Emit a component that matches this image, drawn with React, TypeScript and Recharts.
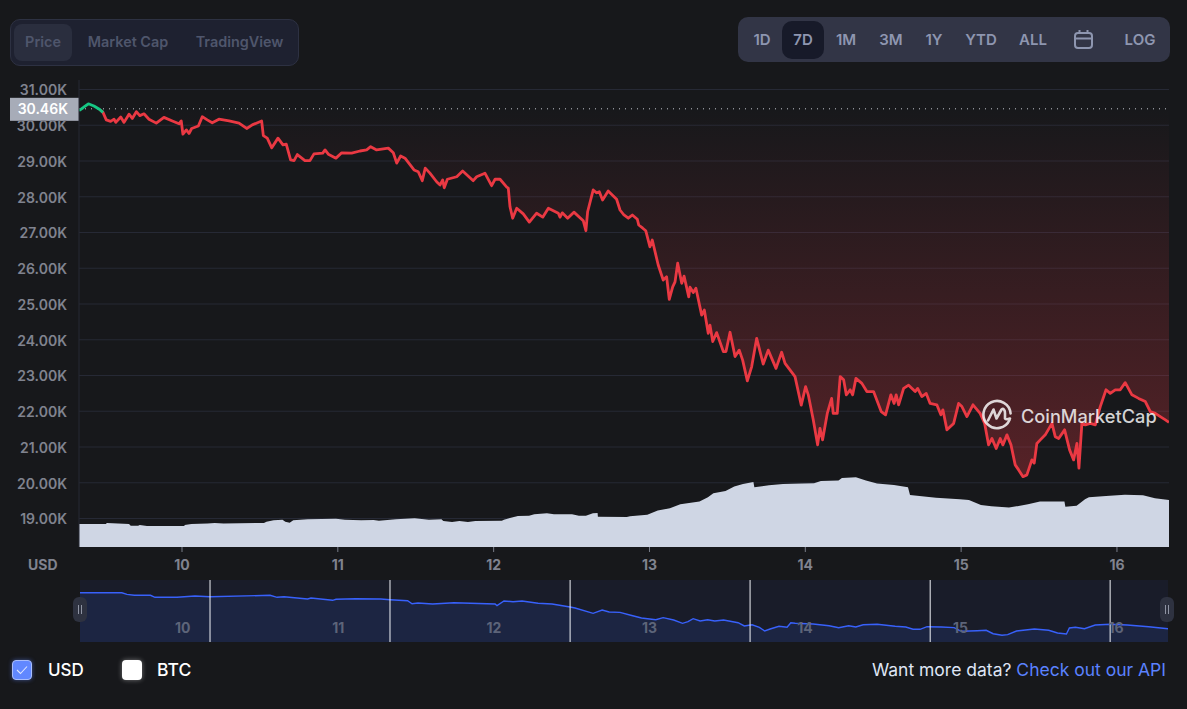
import { Area, ComposedChart, CartesianGrid, Line, ReferenceLine, XAxis, YAxis } from "recharts";

const FONT = "Inter, 'Noto Sans', sans-serif";

const BASELINE = 30.46;
const PRICE_TICKS = [19, 20, 21, 22, 23, 24, 25, 26, 27, 28, 29, 30, 31];
const DAY_TICKS = [10, 11, 12, 13, 14, 15, 16];
const DAY_RANGE = [9.339, 16.334];
const RANGE_BUTTONS = ["1D", "7D", "1M", "3M", "1Y", "YTD", "ALL"];

// price, in thousands of USD, against fractional day of the month
const priceDays = [
  9.339, 9.365, 9.399, 9.435, 9.472, 9.493, 9.514, 9.542, 9.564, 9.575, 9.607, 9.628, 9.66, 9.681, 9.707, 9.729,
  9.756, 9.788, 9.835, 9.884, 9.938, 9.981, 9.995, 10.006, 10.028, 10.045, 10.062, 10.105, 10.13, 10.162, 10.194,
  10.237, 10.302, 10.366, 10.415, 10.451, 10.511, 10.522, 10.547, 10.576, 10.616, 10.648, 10.669, 10.697, 10.719,
  10.74, 10.789, 10.821, 10.847, 10.903, 10.918, 10.939, 10.988, 11.025, 11.089, 11.142, 11.185, 11.211, 11.249,
  11.324, 11.356, 11.378, 11.403, 11.431, 11.489, 11.516, 11.542, 11.561, 11.591, 11.634, 11.656, 11.673, 11.683,
  11.703, 11.763, 11.801, 11.869, 11.891, 11.944, 11.987, 12.009, 12.041, 12.084, 12.094, 12.105, 12.122, 12.148,
  12.19, 12.229, 12.276, 12.315, 12.351, 12.415, 12.426, 12.44, 12.475, 12.515, 12.575, 12.592, 12.603, 12.639,
  12.661, 12.678, 12.699, 12.735, 12.789, 12.811, 12.836, 12.864, 12.89, 12.922, 12.931, 12.957, 12.976, 13.003,
  13.018, 13.056, 13.088, 13.11, 13.127, 13.149, 13.164, 13.181, 13.207, 13.222, 13.252, 13.26, 13.281, 13.298,
  13.335, 13.352, 13.377, 13.388, 13.406, 13.431, 13.474, 13.491, 13.517, 13.549, 13.576, 13.598, 13.628, 13.656,
  13.688, 13.73, 13.762, 13.812, 13.848, 13.87, 13.934, 13.974, 14.002, 14.019, 14.051, 14.079, 14.094, 14.111,
  14.141, 14.169, 14.179, 14.205, 14.224, 14.246, 14.263, 14.288, 14.304, 14.325, 14.363, 14.395, 14.438, 14.487,
  14.515, 14.549, 14.57, 14.583, 14.599, 14.631, 14.663, 14.705, 14.721, 14.748, 14.776, 14.801, 14.844, 14.87,
  14.883, 14.909, 14.952, 14.984, 15.005, 15.037, 15.076, 15.122, 15.151, 15.176, 15.198, 15.225, 15.251, 15.268,
  15.294, 15.32, 15.347, 15.369, 15.397, 15.422, 15.454, 15.469, 15.486, 15.508, 15.54, 15.583, 15.604, 15.626,
  15.664, 15.696, 15.722, 15.743, 15.756, 15.775, 15.797, 15.829, 15.861, 15.893, 15.93, 15.957, 15.989, 16.021,
  16.053, 16.096, 16.139, 16.182, 16.214, 16.246, 16.278, 16.311, 16.334,
];
const prices = [
  30.41, 30.49, 30.6, 30.54, 30.44, 30.36, 30.15, 30.11, 30.17, 30.08, 30.23, 30.08, 30.31, 30.19, 30.38, 30.27,
  30.32, 30.17, 30.06, 30.22, 30.12, 30.04, 30.12, 29.75, 29.87, 29.77, 29.91, 29.98, 30.24, 30.15, 30.07,
  30.17, 30.12, 30.06, 29.91, 30.01, 30.12, 29.71, 29.64, 29.37, 29.64, 29.45, 29.47, 29.03, 29.01,
  29.18, 29.01, 29.01, 29.2, 29.22, 29.31, 29.19, 29.08, 29.23, 29.22, 29.28, 29.31, 29.4, 29.31,
  29.36, 29.23, 28.94, 29.14, 29.08, 28.75, 28.7, 28.45, 28.8, 28.66, 28.42, 28.33, 28.47, 28.25,
  28.49, 28.56, 28.72, 28.45, 28.56, 28.66, 28.31, 28.49, 28.49, 28.27, 28.24, 27.72, 27.4, 27.68,
  27.52, 27.29, 27.54, 27.43, 27.68, 27.54, 27.43, 27.55, 27.4, 27.57, 27.33, 27.05, 27.58, 28.19,
  28.11, 28.14, 27.91, 28.16, 27.93, 27.63, 27.49, 27.4, 27.49, 27.37, 27.21, 27.12, 27.05, 26.6,
  26.79, 26.09, 25.67, 25.76, 25.13, 25.48, 25.62, 26.14, 25.58, 25.78, 25.2, 25.47, 25.32, 25.44,
  24.69, 24.83, 24.18, 24.41, 23.95, 24.2, 23.67, 23.67, 24.21, 23.53, 23.71, 23.43, 22.85, 23.25,
  24.04, 23.32, 23.71, 23.2, 23.65, 23.34, 22.97, 22.17, 22.69, 22.46, 21.76, 21.06, 21.52, 21.2,
  21.94, 22.36, 21.94, 21.94, 22.97, 22.88, 22.46, 22.6, 22.46, 22.92, 22.78, 22.55, 22.55, 21.99,
  21.9, 22.46, 22.22, 22.46, 22.18, 22.64, 22.73, 22.55, 22.64, 22.41, 22.5, 22.22, 22.18, 21.9,
  22.04, 21.48, 21.66, 22.22, 22.13, 21.85, 22.18, 21.94, 21.66, 21.06, 21.24, 20.96, 21.24, 21.06,
  21.34, 21.06, 20.5, 20.36, 20.17, 20.22, 20.64, 20.55, 21.1, 21.2, 21.34, 21.66, 21.29, 21.24,
  21.48, 20.92, 20.64, 21.1, 20.41, 21.66, 21.62, 21.66, 21.62, 22.13, 22.6, 22.5, 22.6, 22.6,
  22.8, 22.46, 22.36, 22.27, 21.99, 21.94, 21.85, 21.76, 21.69,
];

// 24h volume in billions of USD
const volumeDays = [
  9.339, 9.511, 9.518, 9.66, 9.671, 9.718, 9.729, 9.775, 10.015, 10.017, 10.061, 10.164, 10.21, 10.267, 10.526,
  10.542, 10.588, 10.645, 10.663, 10.691, 10.714, 10.806, 10.988, 11.046, 11.149, 11.229, 11.264, 11.373, 11.493,
  11.585, 11.665, 11.677, 11.733, 11.78, 11.835, 11.883, 12.053, 12.066, 12.111, 12.156, 12.227, 12.261, 12.342,
  12.387, 12.503, 12.547, 12.592, 12.637, 12.667, 12.669, 12.855, 12.875, 12.986, 13.053, 13.131, 13.198, 13.321,
  13.375, 13.41, 13.488, 13.544, 13.6, 13.667, 13.673, 13.767, 13.857, 13.979, 14.056, 14.1, 14.213, 14.235,
  14.325, 14.389, 14.46, 14.569, 14.659, 14.672, 14.839, 14.992, 15.05, 15.127, 15.194, 15.307, 15.429, 15.506,
  15.663, 15.669, 15.741, 15.795, 15.82, 15.93, 16.051, 16.167, 16.244, 16.334,
];
const volumes = [
  19.2, 19.2, 20, 19.2, 17.8, 17.8, 18.3, 17.5, 17.5, 18.3, 19.2, 19.6, 20, 19.6, 20,
  21.1, 22.3, 22.8, 21.1, 20.3, 22.3, 23.1, 23.6, 22.8, 22.3, 22.5, 21.9, 23.1, 23.9,
  22.8, 23.1, 21.7, 20.8, 21.7, 20.8, 21.7, 21.9, 22.8, 24.4, 25.8, 26.1, 27.3, 28.1,
  27.3, 27.3, 26.1, 26.1, 28.1, 28.3, 25.3, 25, 25.6, 26.9, 30.3, 32.3, 35.6, 37.8,
  41.4, 44.8, 46.7, 50.3, 52.5, 54.2, 49.8, 51.4, 52.5, 52.8, 53.1, 55, 55.3, 57.5,
  58.1, 55.3, 52.8, 51.7, 49.8, 43.3, 41.1, 39.8, 39.2, 35, 33.9, 32.8, 35.6, 37.8,
  37.8, 33.6, 34.4, 39.8, 41.4, 42.5, 43.6, 43.1, 40.6, 39.2,
];

// the range slider strip has its own coarser series
const navDays = [
  9.339, 9.608, 9.641, 9.688, 9.792, 9.821, 9.963, 10.078, 10.175, 10.561, 10.606, 10.651, 10.802, 10.824, 10.963,
  10.985, 11.112, 11.273, 11.332, 11.445, 11.474, 11.512, 11.606, 11.744, 12.008, 12.02, 12.065, 12.123, 12.181,
  12.284, 12.374, 12.49, 12.522, 12.638, 12.696, 12.741, 12.811, 12.88, 12.949, 13.041, 13.088, 13.156, 13.213,
  13.248, 13.281, 13.326, 13.374, 13.42, 13.477, 13.57, 13.61, 13.66, 13.707, 13.741, 13.776, 13.833, 13.885,
  13.909, 13.937, 14.052, 14.155, 14.217, 14.281, 14.327, 14.374, 14.464, 14.58, 14.648, 14.695, 14.74, 14.785,
  14.878, 14.959, 15.004, 15.107, 15.165, 15.21, 15.267, 15.303, 15.36, 15.475, 15.567, 15.624, 15.681, 15.7,
  15.739, 15.797, 15.866, 15.964, 16.071, 16.21, 16.334,
];
const navPrices = [
  30.57, 30.57, 30.17, 29.93, 29.93, 29.43, 29.43, 29.75, 29.58, 29.93, 29.43, 29.58, 29.01, 29.26, 28.69,
  28.94, 29.09, 29.01, 28.84, 28.59, 27.85, 28.02, 27.78, 28.1, 27.78, 27.36, 28.52, 28.35, 28.52,
  27.95, 27.78, 27.04, 26.79, 25.48, 26.29, 25.8, 25.7, 24.99, 24.32, 23.9, 24.4, 23.83, 23.01,
  23.41, 24.15, 23.58, 23.9, 23.58, 23.83, 23.16, 22.35, 22.66, 22.02, 21.11, 21.6, 22.27, 22.02,
  23.16, 23.01, 22.84, 22.42, 21.93, 22.42, 22.1, 22.66, 22.76, 22.27, 22.1, 21.53, 21.53, 22.17,
  22.1, 21.93, 21.04, 21.18, 21.28, 20.44, 20.05, 20.2, 21.11, 21.6, 21.28, 20.62, 20.37, 21.85,
  22.02, 21.67, 22.58, 22.76, 22.59, 22.17, 21.67,
];
const navMarks = [10.175, 11.332, 12.49, 13.647, 14.805, 15.962];

const priceRows = priceDays.map((day, i) => ({
  day,
  band: [Math.min(prices[i], BASELINE), BASELINE],
  up: i < 6 ? prices[i] : null,
  down: i >= 4 ? prices[i] : null,
}));
const volumeRows = volumeDays.map((day, i) => ({ day, volume: volumes[i] }));
const navRows = navDays.map((day, i) => ({ day, price: navPrices[i] }));

function BaselineTag({ viewBox }: any) {
  return (
    <g>
      <rect x={10} y={viewBox.y - 11} width={69} height={23} fill="#a7acb8" />
      <text x={68} y={viewBox.y + 5.5} textAnchor="end" fill="#fff" fontSize={14} fontWeight={600} fontFamily={FONT}>
        {BASELINE.toFixed(2)}K
      </text>
    </g>
  );
}

function NavTick({ x, payload }: any) {
  return (
    <text x={x} y={53} textAnchor="middle" fill="#5d6479" fontSize={14} fontWeight={700} fontFamily={FONT}>
      {payload.value}
    </text>
  );
}

function Handle({ left }: { left: number }) {
  return (
    <div style={{ position: "absolute", left, top: 597, width: 14, height: 25, borderRadius: 6, background: "#2e3240" }}>
      <div style={{ position: "absolute", left: 4.5, top: 8, width: 1, height: 9, background: "#8f94a3" }} />
      <div style={{ position: "absolute", left: 7.5, top: 8, width: 1, height: 9, background: "#8f94a3" }} />
    </div>
  );
}

function Pill({ label, left, width, active }: { label: string; left: number; width: number; active?: boolean }) {
  return (
    <div
      style={{
        position: "absolute",
        left,
        top: 24,
        width,
        height: 37,
        lineHeight: "36px",
        textAlign: "center",
        borderRadius: 8,
        background: active ? "#2a2e3e" : "transparent",
        color: "#4f566c",
        fontSize: 14.4,
        fontWeight: 600,
      }}
    >
      {label}
    </div>
  );
}

const rangeCenters = [762, 803, 846, 891, 934, 981, 1033];

export default function App() {
  return (
    <div
      style={{
        position: "absolute",
        left: 0,
        top: 0,
        width: 1187,
        height: 709,
        overflow: "hidden",
        background: "#17181b",
        fontFamily: FONT,
      }}
    >
      <div
        style={{
          position: "absolute",
          left: 10,
          top: 19,
          width: 287,
          height: 45,
          borderRadius: 10,
          border: "1px solid #2d3142",
          background: "#1e2130",
        }}
      />
      <Pill label="Price" left={14} width={58} active />
      <Pill label="Market Cap" left={80} width={96} />
      <Pill label="TradingView" left={188} width={103} />

      <div style={{ position: "absolute", left: 738, top: 17, width: 432, height: 45, borderRadius: 10, background: "#323546" }} />
      <div style={{ position: "absolute", left: 782, top: 21, width: 42, height: 38, borderRadius: 10, background: "#171a29" }} />
      {RANGE_BUTTONS.map((label, i) => (
        <div
          key={label}
          style={{
            position: "absolute",
            left: rangeCenters[i] - 30,
            width: 60,
            top: 30,
            textAlign: "center",
            lineHeight: "20px",
            color: "#8e96b0",
            fontSize: 15,
            fontWeight: 600,
          }}
        >
          {label}
        </div>
      ))}
      <svg style={{ position: "absolute", left: 1073, top: 29 }} width={21} height={21} viewBox="0 0 21 21" fill="none" stroke="#8e96b0" strokeWidth={2}>
        <rect x={2} y={4} width={17} height={15} rx={3} />
        <path d="M2 9.5H19M6.5 1V5M14.5 1V5" />
      </svg>
      <div style={{ position: "absolute", left: 1110, width: 60, top: 30, textAlign: "center", lineHeight: "20px", color: "#8e96b0", fontSize: 15, fontWeight: 600 }}>
        LOG
      </div>

      <div style={{ position: "absolute", left: 0, top: 0 }}>
        <ComposedChart width={1187} height={600} margin={{ top: 80, right: 18, bottom: 0, left: 0 }}>
          <defs>
            <linearGradient id="bandFill" x1="0" y1="0" x2="0" y2="1">
              <stop offset="0%" stopColor="#ea3943" stopOpacity={0} />
              <stop offset="100%" stopColor="#ea3943" stopOpacity={0.3} />
            </linearGradient>
          </defs>
          <CartesianGrid vertical={false} yAxisId="price" syncWithTicks stroke="#262935" />
          <XAxis
            type="number"
            dataKey="day"
            domain={DAY_RANGE}
            ticks={DAY_TICKS}
            interval={0}
            allowDataOverflow
            height={53}
            axisLine={false}
            tickSize={5}
            tickMargin={8}
            tickLine={{ stroke: "#787c88" }}
            tick={{ fill: "#80838f", fontSize: 14, fontWeight: 700, fontFamily: FONT }}
          />
          <YAxis
            yAxisId="price"
            domain={[18.203, 31.266]}
            ticks={PRICE_TICKS}
            interval={0}
            allowDataOverflow
            width={79}
            axisLine={{ stroke: "#262935" }}
            tickLine={false}
            tickSize={0}
            tickMargin={12}
            tickFormatter={(v: number) => `${v.toFixed(2)}K`}
            tick={{ fill: "#80838f", fontSize: 14, fontWeight: 600, fontFamily: FONT, dy: 1 }}
          />
          <YAxis yAxisId="volume" hide domain={[0, 389]} allowDataOverflow />
          <Area
            yAxisId="price"
            data={priceRows}
            dataKey="band"
            type="linear"
            stroke="none"
            fill="url(#bandFill)"
            fillOpacity={1}
            dot={false}
            activeDot={false}
            isAnimationActive={false}
          />
          <Area
            yAxisId="volume"
            data={volumeRows}
            dataKey="volume"
            type="linear"
            stroke="none"
            fill="#cfd6e4"
            fillOpacity={1}
            dot={false}
            activeDot={false}
            isAnimationActive={false}
          />
          <ReferenceLine yAxisId="price" y={BASELINE} stroke="#c3c6cf" strokeDasharray="1 5" label={<BaselineTag />} />
          <Line
            yAxisId="price"
            data={priceRows}
            dataKey="down"
            type="linear"
            stroke="#ea3943"
            strokeWidth={2.8}
            strokeLinejoin="round"
            dot={false}
            activeDot={false}
            isAnimationActive={false}
          />
          <Line
            yAxisId="price"
            data={priceRows}
            dataKey="up"
            type="linear"
            stroke="#16c784"
            strokeWidth={2.8}
            strokeLinejoin="round"
            dot={false}
            activeDot={false}
            isAnimationActive={false}
          />
        </ComposedChart>
      </div>

      <div style={{ position: "absolute", left: 28, top: 556, lineHeight: "18px", color: "#80838f", fontSize: 14, fontWeight: 700 }}>USD</div>

      <svg style={{ position: "absolute", left: 981, top: 399, opacity: 0.82 }} width={32} height={32} viewBox="0 0 32 32" fill="none" stroke="#fff" strokeWidth={2.6} strokeLinecap="round" strokeLinejoin="round">
        <path d="M28.5 21A13.6 13.6 0 1 1 29.6 14.5" />
        <path d="M7 21.5L12.5 10.5L15.5 19.5L20.5 10.5C22.5 9 24 11 24 14V19.5C25 21 26.5 20.5 29 19.5" />
      </svg>
      <div style={{ position: "absolute", left: 1021, top: 403, lineHeight: "27px", color: "rgba(255,255,255,0.82)", fontSize: 18.2, fontWeight: 500 }}>
        CoinMarketCap
      </div>

      <div style={{ position: "absolute", left: 80, top: 580, width: 1088, height: 62, background: "#191c29" }}>
        <ComposedChart width={1088} height={62} data={navRows} margin={{ top: 0, right: 0, bottom: 0, left: 0 }}>
          <XAxis type="number" dataKey="day" domain={DAY_RANGE} allowDataOverflow hide />
          <YAxis hide domain={[18.39, 33.71]} allowDataOverflow />
          <Area
            dataKey="price"
            type="linear"
            stroke="#3861fb"
            strokeWidth={1.4}
            fill="#1c2542"
            fillOpacity={1}
            dot={false}
            activeDot={false}
            isAnimationActive={false}
          />
          {navMarks.map((day) => (
            <ReferenceLine key={day} x={day} stroke="#f2f4f8" strokeWidth={1} />
          ))}
        </ComposedChart>
      </div>
      {/* slider labels sit above the line, so they get their own layer */}
      <div style={{ position: "absolute", left: 80, top: 580 }}>
        <ComposedChart width={1088} height={62} data={navRows} margin={{ top: 0, right: 0, bottom: 0, left: 0 }}>
          <XAxis
            type="number"
            dataKey="day"
            domain={DAY_RANGE}
            ticks={DAY_TICKS}
            interval={0}
            allowDataOverflow
            height={1}
            axisLine={false}
            tickLine={false}
            tick={<NavTick />}
          />
          <YAxis hide domain={[18.39, 33.71]} allowDataOverflow />
        </ComposedChart>
      </div>
      <Handle left={73} />
      <Handle left={1160} />

      <div style={{ position: "absolute", left: 12, top: 660, width: 20, height: 20, boxSizing: "border-box", borderRadius: 4, background: "#6188ff", border: "1px solid #a9bdfb", boxShadow: "0 0 4px rgba(97,136,255,0.5)" }}>
        <svg width={18} height={18} viewBox="0 0 18 18" fill="none" stroke="#dfe6ff" strokeWidth={1.1}>
          <path d="M4 9L7.5 12.5L14 5.5" />
        </svg>
      </div>
      <div style={{ position: "absolute", left: 48, top: 659, lineHeight: "22px", color: "#fff", fontSize: 17, fontWeight: 500 }}>USD</div>
      <div style={{ position: "absolute", left: 122, top: 660, width: 20, height: 20, borderRadius: 4, background: "#fff", boxShadow: "0 0 5px rgba(255,255,255,0.4)" }} />
      <div style={{ position: "absolute", left: 157, top: 659, lineHeight: "22px", color: "#fff", fontSize: 17.5, fontWeight: 500 }}>BTC</div>

      <div style={{ position: "absolute", right: 21, top: 659, lineHeight: "22px", fontSize: 17.5, color: "#dfe5f5", whiteSpace: "nowrap" }}>
        Want more data? <span style={{ color: "#5b82ff" }}>Check out our API</span>
      </div>
    </div>
  );
}
